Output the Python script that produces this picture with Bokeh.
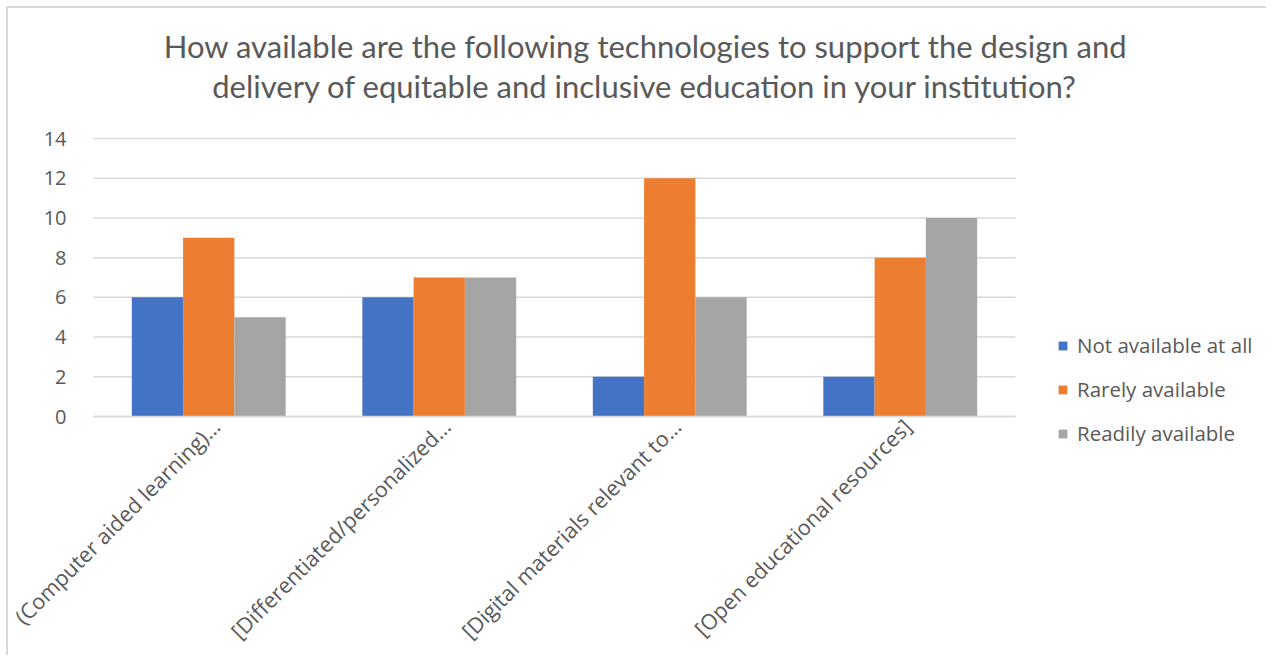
import math
from bokeh.plotting import figure
from bokeh.models import Legend, LegendItem, Range1d, FixedTicker, Label
from bokeh.embed import file_html
from bokeh.resources import INLINE

categories = ["(Computer aided learning)…", "[Differentiated/personalized…",
              "[Digital materials relevant to…", "[Open educational resources]"]
not_available = [6, 6, 2, 2]
rarely_available = [9, 7, 12, 8]
readily_available = [5, 7, 6, 10]
series_names = ["Not available at all", "Rarely available", "Readily available"]
series_colors = ["#4472C4", "#ED7D31", "#A5A5A5"]
y_ticks = [0, 2, 4, 6, 8, 10, 12, 14]
title_lines = ["How available are the following technologies to support the design and",
               "delivery of equitable and inclusive education in your institution?"]

TXT = "#595959"
GRID = "#d9d9d9"
FONT = "Open Sans"
TFONT = "Lato"

W, H = 1266, 655
# pixel layout of the plotting area inside the canvas
left_px, right_px, top_px, bottom_px = 93, 1015, 138, 416
n = len(categories)
ppx = (right_px - left_px) / n                    # pixels per category
ymax = max(y_ticks)
ppy = (bottom_px - top_px) / ymax                 # pixels per unit
x_range = Range1d(0.5 - left_px / ppx, 0.5 + (W - left_px) / ppx)
y_range = Range1d(-(H - bottom_px) / ppy, ymax + top_px / ppy)

p = figure(x_range=x_range, y_range=y_range, width=W, height=H,
           output_backend="svg", toolbar_location=None, title_location=None,
           min_border=0, min_border_left=0, min_border_right=0,
           min_border_top=0, min_border_bottom=0)
p.outline_line_color = None
p.background_fill_alpha = 0
p.border_fill_alpha = 0
p.styles = {"background": "linear-gradient(#d9d9d9,#d9d9d9) 6px 6px / 2px 100% no-repeat, "
                          "linear-gradient(#d9d9d9,#d9d9d9) 6px 6px / 100% 2px no-repeat, #ffffff"}
p.xgrid.visible = False
p.ygrid.visible = False

centers = [i + 1 for i in range(n)]
lo, hi = 0.5, n + 0.5

# horizontal gridlines over the category area only
p.segment(x0=[lo] * len(y_ticks), x1=[hi] * len(y_ticks), y0=y_ticks, y1=y_ticks,
          line_color=GRID, line_width=1.5)

bw = 0.2225
offsets = [-bw, 0, bw]
renderers = []
for vals, off, col in zip([not_available, rarely_available, readily_available], offsets, series_colors):
    r = p.vbar(x=[c + off for c in centers], top=vals, width=bw, fill_color=col, line_color=None)
    renderers.append(r)

p.yaxis.fixed_location = lo
p.yaxis.ticker = FixedTicker(ticks=y_ticks)
p.yaxis.axis_line_color = None
p.yaxis.major_tick_line_color = None
p.yaxis.minor_tick_line_color = None
p.yaxis.major_label_text_color = TXT
p.yaxis.major_label_text_font = FONT
p.yaxis.major_label_text_font_size = "20px"
p.yaxis.major_label_standoff = 21

# category labels: anchored slightly right of each group centre (as in the source chart)
label_shift = 7 / ppx
label_ticks = [c + label_shift for c in centers]
p.xaxis.fixed_location = 0
p.xaxis.bounds = (lo, hi)
p.xaxis.ticker = FixedTicker(ticks=label_ticks)
p.xaxis.major_label_overrides = {t: lab for t, lab in zip(label_ticks, categories)}
p.xaxis.axis_line_color = GRID
p.xaxis.axis_line_width = 1.5
p.xaxis.major_tick_line_color = None
p.xaxis.minor_tick_line_color = None
p.xaxis.major_label_orientation = math.pi / 4
p.xaxis.major_label_text_color = TXT
p.xaxis.major_label_text_font = FONT
p.xaxis.major_label_text_font_size = "21.5px"
p.xaxis.major_label_standoff = 0

for line, yc in zip(title_lines, [45, 85]):
    p.add_layout(Label(x=645, y=H - yc, x_units="screen", y_units="screen", text=line,
                       text_align="center", text_baseline="middle",
                       text_font=TFONT, text_font_size="31px", text_color=TXT))

legend = Legend(items=[LegendItem(label=nm, renderers=[r]) for nm, r in zip(series_names, renderers)],
                location=(1057, H - 447), orientation="vertical")
legend.padding = 0
legend.margin = 0
legend.border_line_color = None
legend.background_fill_alpha = 0
legend.glyph_width = 11
legend.glyph_height = 11
legend.label_height = 22
legend.spacing = 16
legend.label_standoff = 9
legend.label_text_font = FONT
legend.label_text_font_size = "20.5px"
legend.label_text_color = TXT
p.add_layout(legend, "center")

open("out.html", "w").write(file_html(p, INLINE))
